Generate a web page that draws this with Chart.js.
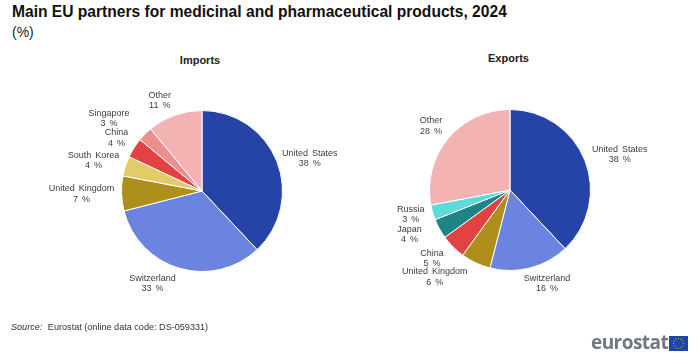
<!DOCTYPE html>
<html>
<head>
<meta charset="utf-8">
<title>Main EU partners for medicinal and pharmaceutical products, 2024</title>
<script src="https://cdn.jsdelivr.net/npm/chart.js@4"></script>
<style>
  html, body { margin: 0; padding: 0; background: #fff; }
  #page { position: relative; width: 700px; height: 357px; overflow: hidden; font-family: "Liberation Sans", Arial, sans-serif; }
  #page canvas { position: absolute; top: 0; }
  #page .txt { position: absolute; white-space: nowrap; }
  #title { left: 12px; top: 1px; font-size: 15.6px; line-height: 22px; font-weight: bold; color: #111; }
  #unit { left: 12px; top: 23px; font-size: 14px; line-height: 18px; color: #222; }
  .panel { font-size: 11px; line-height: 16px; font-weight: bold; color: #222; transform: translateX(-50%); }
  #source { left: 11px; top: 320px; font-size: 9.1px; line-height: 14px; color: #333; }
  #source i { margin-right: 3px; }
  #brand { left: 591px; top: 328px; font-family: "Open Sans", sans-serif; font-size: 19px; line-height: 28px; font-weight: 700; letter-spacing: -0.55px; color: #6f7782; }
  #flag { position: absolute; left: 669px; top: 336px; }
</style>
</head>
<body>
<div id="page">
  <div class="txt" id="title">Main EU partners for medicinal and pharmaceutical products, 2024</div>
  <div class="txt" id="unit">(%)</div>
  <div class="txt panel" style="left:200px;top:52px">Imports</div>
  <div class="txt panel" style="left:508.5px;top:50px">Exports</div>
  <canvas id="importsChart" width="350" height="357" style="left:0"></canvas>
  <canvas id="exportsChart" width="350" height="357" style="left:350px"></canvas>
  <div class="txt" id="source"><i>Source:</i> Eurostat (online data code: DS-059331)</div>
  <div class="txt" id="brand">eurostat</div>
  <svg id="flag" width="19" height="15" viewBox="0 0 19 15"></svg>
</div>
<script>
const importPartners = ["United States", "Switzerland", "United Kingdom", "South Korea", "China", "Singapore", "Other"];
const importShares = [38, 33, 7, 4, 4, 3, 11];
const importColors = ["#2644a7", "#6a84df", "#af8f1c", "#e3cc68", "#e24242", "#ee8f8f", "#f4b3b3"];

const exportPartners = ["United States", "Switzerland", "United Kingdom", "China", "Japan", "Russia", "Other"];
const exportShares = [38, 16, 6, 5, 4, 3, 28];
const exportColors = ["#2644a7", "#6a84df", "#af8f1c", "#e24242", "#208486", "#5cdbdb", "#f4b3b3"];

// labels sit next to the middle of each slice, moved by hand like in the original
const importNudge = [[33, -3], [-27, 15], [-40, 0], [-32, -6], [-17.5, -10], [-36, -16], [-15, -15]];
const exportNudge = [[35, -6], [17, 15.5], [-41, 14], [-21, 11.5], [-30, 5.5], [-22, 2], [-17, -13]];

const sliceLabels = {
  id: "sliceLabels",
  afterDatasetsDraw(chart, args, opts) {
    const ctx = chart.ctx;
    const arcs = chart.getDatasetMeta(0).data;
    ctx.save();
    ctx.font = '9px "Liberation Sans", Arial, sans-serif';
    ctx.fillStyle = "#3c3c3c";
    ctx.textAlign = "center";
    ctx.textBaseline = "middle";
    ctx.wordSpacing = "1.5px";
    arcs.forEach((arc, i) => {
      const mid = (arc.startAngle + arc.endAngle) / 2;
      const x = arc.x + Math.cos(mid) * arc.outerRadius + opts.nudge[i][0];
      const y = arc.y + Math.sin(mid) * arc.outerRadius + opts.nudge[i][1];
      ctx.fillText(chart.data.labels[i], x, y - 5);
      ctx.fillText(chart.data.datasets[0].data[i] + " %", x, y + 5.5);
    });
    ctx.restore();
  },
};

function drawPie(id, labels, values, colors, padding, nudge) {
  return new Chart(document.getElementById(id), {
    type: "pie",
    data: {
      labels,
      datasets: [{ data: values, backgroundColor: colors, borderColor: "#ffffff", borderWidth: 1 }],
    },
    options: {
      responsive: false,
      animation: false,
      layout: { padding },
      plugins: {
        legend: { display: false },
        tooltip: { enabled: false },
        sliceLabels: { nudge },
      },
    },
    plugins: [sliceLabels],
  });
}

drawPie("importsChart", importPartners, importShares, importColors, { left: 121, right: 67, top: 110, bottom: 85 }, importNudge);
drawPie("exportsChart", exportPartners, exportShares, exportColors, { left: 79, right: 109, top: 109, bottom: 86 }, exportNudge);

// EU flag next to the wordmark
const flag = document.getElementById("flag");
let stars = '<rect width="19" height="15" fill="#1f45a5"/>';
for (let i = 0; i < 12; i++) {
  const a = (i * Math.PI) / 6;
  stars += `<circle cx="${9.5 + 5 * Math.cos(a)}" cy="${7.5 + 5 * Math.sin(a)}" r="0.6" fill="#e2c93a"/>`;
}
flag.innerHTML = stars;
</script>
</body>
</html>
